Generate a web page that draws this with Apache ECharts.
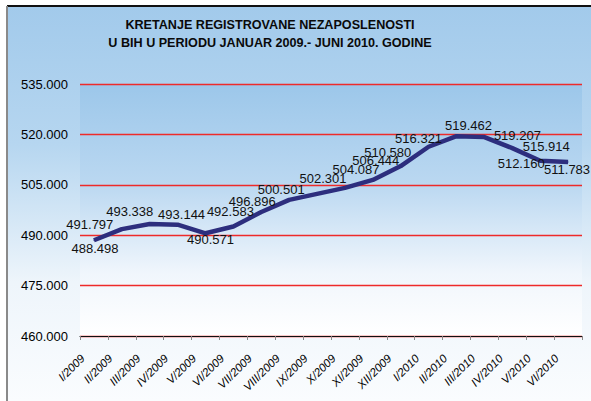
<!DOCTYPE html>
<html>
<head>
<meta charset="utf-8">
<script src="https://cdn.jsdelivr.net/npm/echarts@6/dist/echarts.min.js"></script>
<style>
html,body{margin:0;padding:0;background:#fff;}
#c{width:591px;height:401px;}
</style>
</head>
<body>
<div id="c"></div>
<script>
const titleLines = ['KRETANJE REGISTROVANE NEZAPOSLENOSTI', 'U BIH U PERIODU JANUAR 2009.- JUNI 2010. GODINE'];
const categories = ['I/2009','II/2009','III/2009','IV/2009','V/2009','VI/2009','VII/2009','VIII/2009','IX/2009','X/2009','XI/2009','XII/2009','I/2010','II/2010','III/2010','IV/2010','V/2010','VI/2010'];
const values = [488498, 491797, 493338, 493144, 490571, 492583, 496896, 500501, 502301, 504087, 506444, 510580, 516321, 519462, 519207, 515914, 512160, 511783];
const yMin = 460000, yMax = 535000, yStep = 15000;

// label placement (styling only), offsets from each point
const labelOffsets = [[1,8],[-32,-5],[-20,-12],[4,-10],[5,6],[-3,-15],[-9,-11],[-8,-10],[6,-15],[11,-18],[3,-19],[-13,-14],[-10,-8],[12,-11],[33,-2],[34,-2],[-19,3],[-1,7]];

function fmt(v){ return (v/1000).toFixed(3); }

const chart = echarts.init(document.getElementById('c'), null, {renderer:'svg'});
chart.setOption({
  animation:false,
  backgroundColor:'#ffffff',
  graphic:[
    {type:'rect', z:-10, shape:{x:7,y:6,width:584,height:395},
     style:{fill:new echarts.graphic.LinearGradient(0,0,0,1,[
       {offset:0,color:'#A2CAEB'},{offset:0.35,color:'#B6D6F0'},{offset:0.7,color:'#EEF5FB'},{offset:1,color:'#FAFCFE'}])}},
    {type:'rect', z:-9, shape:{x:7,y:5,width:584,height:2}, style:{fill:'#111'}},
    {type:'rect', z:-9, shape:{x:6,y:6,width:2,height:395}, style:{fill:'#8a8a8a'}},
    {type:'text', x:270, y:25, style:{text:titleLines[0], align:'center', verticalAlign:'middle', font:'bold 12.6px "Liberation Sans", Arial, sans-serif', fill:'#0a0a0a'}},
    {type:'text', x:270, y:43, style:{text:titleLines[1], align:'center', verticalAlign:'middle', font:'bold 12.6px "Liberation Sans", Arial, sans-serif', fill:'#0a0a0a'}}
  ],
  grid:{left:80, right:9, top:84, bottom:65, show:true, borderWidth:0,
    backgroundColor:new echarts.graphic.LinearGradient(0,0,0,1,[
      {offset:0,color:'#9CC7EA'},{offset:0.4,color:'#BBD8F1'},{offset:0.75,color:'#F0F6FC'},{offset:1,color:'#FFFFFF'}])},
  xAxis:{
    type:'category', data:categories, boundaryGap:true,
    axisLine:{show:true, lineStyle:{color:'#111', width:1}},
    axisTick:{show:true, length:4, lineStyle:{color:'#888'}},
    axisLabel:{rotate:45, margin:9, padding:[0,16,0,0], fontSize:11.5, fontStyle:'italic',
      fontFamily:'"Liberation Sans", Arial, sans-serif', color:'#000', interval:0}
  },
  yAxis:{
    type:'value', min:yMin, max:yMax, interval:yStep,
    axisLine:{show:false}, axisTick:{show:false},
    splitLine:{show:true, lineStyle:{color:'#EE2A2A', width:1.3}},
    axisLabel:{formatter:fmt, margin:12, fontSize:13, color:'#000',
      fontFamily:'"Liberation Sans", Arial, sans-serif'}
  },
  series:[{
    type:'line',
    data:values.map((v,i)=>({value:v, label:{offset:labelOffsets[i]}})),
    symbol:'circle', symbolSize:1, showSymbol:true,
    itemStyle:{color:'#2D2E7E'},
    lineStyle:{color:'#2D2E7E', width:4.5},
    label:{show:true, position:'inside', formatter:p=>fmt(p.value), fontSize:13, color:'#111',
      fontFamily:'"Liberation Sans", Arial, sans-serif', align:'center', verticalAlign:'middle'}
  }]
});
</script>
</body>
</html>
